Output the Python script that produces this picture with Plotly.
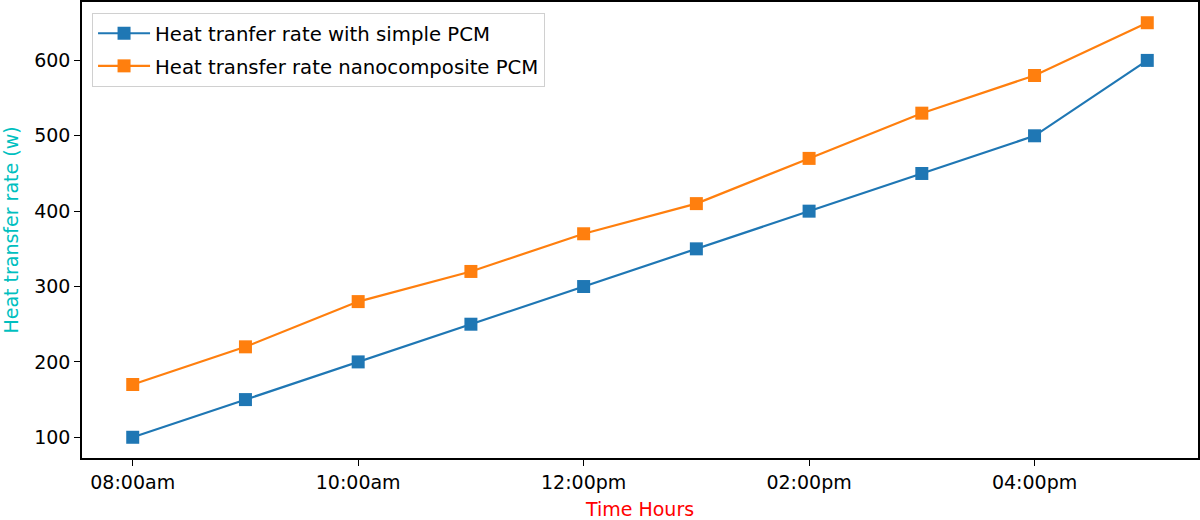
import plotly.graph_objects as go

time_labels = ["08:00am", "09:00am", "10:00am", "11:00am", "12:00pm",
               "01:00pm", "02:00pm", "03:00pm", "04:00pm", "05:00pm"]
simple_pcm = [100, 150, 200, 250, 300, 350, 400, 450, 500, 600]
nano_pcm = [170, 220, 280, 320, 370, 410, 470, 530, 580, 650]
tick_labels = ["08:00am", "10:00am", "12:00pm", "02:00pm", "04:00pm"]

x = list(range(len(time_labels)))
font = "DejaVu Sans"

fig = go.Figure()
fig.add_trace(go.Scatter(x=x, y=simple_pcm, mode="lines+markers",
                         name="Heat tranfer rate with simple PCM", legendgroup="a",
                         line=dict(color="#1f77b4", width=2.2),
                         marker=dict(symbol="square", size=13, color="#1f77b4")))
fig.add_trace(go.Scatter(x=x, y=nano_pcm, mode="lines+markers",
                         name="Heat transfer rate nanocomposite PCM", legendgroup="b",
                         line=dict(color="#ff7f0e", width=2.2),
                         marker=dict(symbol="square", size=13, color="#ff7f0e")))

fig.update_layout(
    width=1200, height=520,
    margin=dict(l=82, r=2, t=2, b=62),
    paper_bgcolor="white", plot_bgcolor="white",
    font=dict(family=font, size=19, color="black"),
    legend=dict(x=0.009, y=0.976, xanchor="left", yanchor="top",
                bordercolor="#d0d0d0", borderwidth=1, bgcolor="rgba(255,255,255,0.8)",
                font=dict(size=19.7, family=font), traceorder="grouped",
                tracegroupgap=4, itemwidth=52),
    xaxis=dict(range=[-0.45, 9.45], tickmode="array", automargin=False,
               tickvals=[time_labels.index(t) for t in tick_labels], ticktext=tick_labels,
               showgrid=False, zeroline=False, showline=True, mirror=True,
               linecolor="black", linewidth=1.5, ticks="outside", ticklen=6,
               tickcolor="black", tickfont=dict(size=19),
               title=dict(text="Time Hours", font=dict(color="red", size=19), standoff=11)),
    yaxis=dict(range=[72.5, 677.5], tickvals=[100, 200, 300, 400, 500, 600], automargin=False,
               showgrid=False, zeroline=False, showline=True, mirror=True,
               linecolor="black", linewidth=1.5, ticks="outside", ticklen=6,
               tickcolor="black", tickfont=dict(size=19),
               title=dict(text="Heat transfer rate (w)", font=dict(color="#00bfbf", size=19), standoff=11)),
)

fig.write_html("out.html", config={"displayModeBar": False},
               post_script="document.body.style.margin='0';")
